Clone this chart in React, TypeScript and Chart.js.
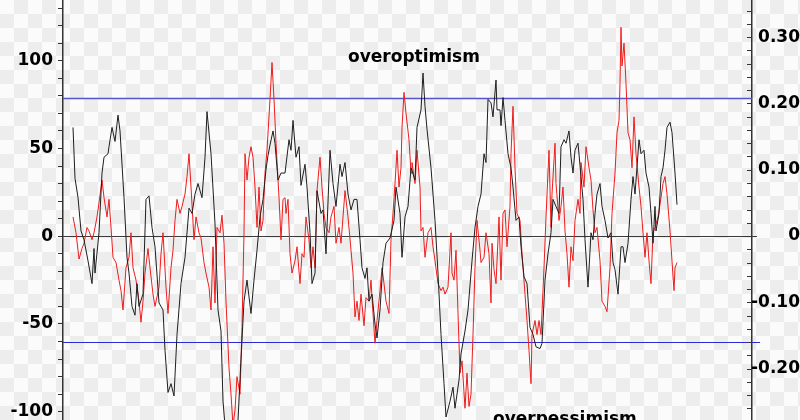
import React, { useEffect, useRef } from "react";
import { Chart, registerables } from "chart.js";

Chart.register(...registerables);

// time index (periods) and sentiment index, black series (left axis)
const BLACK: [number, number][] = [
  [0, 62], [2, 33], [5, 22], [8, 3], [11, -2], [15, -14], [19, -27], [21, -7], [22, -21], [26, 2],
  [29, 36], [31, 45], [35, 47], [36, 51], [39, 62], [42, 54], [45, 69], [47, 60], [51, 22], [54, -12],
  [56, -21], [59, -40], [62, -45], [64, -27], [66, -40], [70, -33], [73, 21], [76, 23], [79, 5], [82, -6],
  [86, -38], [90, -42], [92, -65], [95, -89], [98, -84], [101, -91], [104, -56], [108, -27], [112, -12], [116, 16],
  [119, 13], [122, 24], [125, 30], [129, 22], [132, 45], [134, 71], [138, 47], [142, 7], [145, -42], [148, -54],
  [150, -94], [153, -115], [157, -125], [163, -118], [165, -105], [168, -70], [171, -37], [174, -25], [178, -44], [181, -25],
  [184, -8], [187, 11], [190, 21], [193, 38], [195, 46], [197, 52], [200, 60], [202, 53], [205, 32], [208, 36],
  [212, 36], [216, 55], [218, 49], [220, 66], [223, 45], [226, 51], [228, 29], [232, 41], [234, 28], [237, 2],
  [239, -27], [242, -21], [244, 26], [248, 13], [250, 15], [253, -10], [257, 49], [260, 30], [263, 17], [267, 41],
  [269, 34], [272, 42], [275, 24], [278, 15], [281, 21], [284, 21], [287, -2], [289, -18], [292, -24], [294, -18],
  [296, -37], [299, -33], [302, -50], [304, -58], [307, -42], [310, -15], [313, -4], [317, -1], [321, 9], [323, 28],
  [327, 13], [329, -12], [332, 11], [335, 17], [338, 39], [342, 32], [344, 62], [348, 72], [350, 93], [352, 74],
  [354, 61], [358, 39], [362, 9], [365, -21], [368, -56], [371, -84], [373, -103], [377, -94], [380, -86], [382, -98],
  [386, -82], [388, -67], [392, -54], [395, -42], [399, -14], [402, 5], [405, 17], [408, 24], [411, 47], [413, 42],
  [415, 78], [418, 76], [420, 68], [423, 89], [424, 72], [427, 72], [428, 63], [430, 79], [432, 66], [435, 47],
  [438, 39], [440, 28], [443, 9], [446, 11], [448, -6], [451, -23], [454, -27], [457, -52], [460, -56], [463, -63],
  [467, -64], [469, -61], [472, -25], [475, -10], [478, 2], [480, 21], [483, 17], [486, 13], [488, 51], [491, 55],
  [493, 53], [496, 60], [498, 45], [500, 36], [502, 49], [505, 53], [508, 34], [510, 21], [512, -2], [515, -29],
  [518, 2], [520, -2], [522, 13], [524, 24], [527, 30], [529, 17], [532, 9], [535, -1], [538, 2], [540, -15],
  [542, -19], [545, -33], [548, -6], [550, -6], [552, -15], [555, -4], [558, 21], [560, 34], [562, 24], [566, 55],
  [568, 47], [571, 49], [573, 36], [576, 28], [578, 13], [580, -4], [582, 17], [583, 3], [586, 13], [588, 34],
  [590, 39], [592, 49], [594, 62], [597, 65], [599, 59], [602, 36], [604, 18],
];

// red series
const RED: [number, number][] = [
  [0, 11], [3, 2], [6, -13], [9, -7], [11, -4], [14, 5], [16, 3], [19, -2], [21, 2], [24, 11],
  [26, 19], [29, 32], [31, 22], [34, 11], [36, 21], [38, 5], [40, -12], [43, -15], [46, -25], [48, -31],
  [50, -42], [53, -18], [56, -12], [58, 2], [60, -18], [63, -25], [66, -37], [68, -49], [70, -37], [72, -21],
  [75, -7], [77, -18], [80, -33], [82, -40], [86, -29], [88, -10], [90, 2], [93, -29], [95, -44], [98, -18],
  [100, -8], [102, 9], [104, 21], [107, 13], [109, 17], [112, 24], [114, 34], [116, 47], [118, 28], [121, -2],
  [123, 11], [126, 2], [128, -1], [131, -15], [133, -21], [136, -29], [138, -42], [140, -6], [142, -38], [144, 5],
  [147, 2], [149, 12], [151, -4], [153, -37], [156, -75], [158, -90], [160, -108], [162, -99], [164, -80], [167, -90],
  [169, -52], [171, 2], [172, 47], [174, 32], [176, 45], [178, 51], [180, 45], [182, 28], [184, 5], [186, 28],
  [188, 3], [190, 9], [192, 36], [194, 49], [197, 78], [199, 99], [201, 78], [203, 53], [206, 22], [208, -2],
  [210, 21], [212, 22], [213, 13], [215, 21], [217, -10], [219, -21], [222, -14], [224, -6], [227, -27], [229, -10],
  [231, -12], [233, 11], [236, -2], [238, -18], [240, -6], [242, -18], [244, 26], [247, 45], [249, 28], [251, 13],
  [253, 5], [256, 2], [258, 11], [261, 17], [263, -4], [266, 5], [268, -4], [270, 11], [272, 26], [275, 11],
  [278, -8], [280, -21], [282, -46], [284, -37], [286, -48], [288, -33], [291, -51], [293, -35], [296, -37], [298, -25],
  [300, -44], [302, -61], [304, -48], [307, -31], [309, -18], [311, -27], [313, -37], [316, -44], [318, -2], [320, 13],
  [322, 30], [324, 49], [326, 28], [328, 39], [329, 62], [331, 82], [333, 70], [336, 55], [338, 36], [339, 42],
  [342, 30], [344, 49], [347, 28], [348, 3], [350, 5], [352, -12], [355, 2], [358, 5], [360, -6], [362, -14],
  [365, -27], [368, -31], [370, -29], [372, -33], [375, -29], [378, 2], [379, -21], [381, -25], [383, -8], [385, -44],
  [387, -78], [389, -71], [392, -98], [394, -78], [396, -97], [398, -90], [400, -56], [402, -18], [404, 9], [407, -8],
  [408, -15], [411, -12], [413, 2], [416, -10], [418, -38], [419, -4], [421, -19], [423, -27], [426, 11], [428, -25],
  [430, 13], [432, 15], [434, -6], [437, 17], [438, 47], [440, 74], [442, 39], [444, 13], [447, 9], [449, -10],
  [452, -33], [454, -48], [456, -65], [458, -84], [459, -56], [462, -48], [464, -56], [466, -48], [468, -56], [471, -18],
  [473, 11], [476, 49], [478, 5], [479, 24], [482, 53], [483, 30], [486, 9], [488, 17], [490, 28], [492, 3],
  [494, -10], [496, -29], [498, -6], [500, -14], [502, 9], [505, 21], [507, 13], [508, 42], [511, 28], [513, 51],
  [516, 39], [518, 32], [520, 15], [522, 2], [524, 5], [527, -14], [529, -37], [532, -40], [534, -43], [537, -18],
  [539, 13], [542, 36], [544, 59], [546, 66], [547, 87], [548, 119], [549, 97], [551, 110], [553, 87], [555, 59],
  [557, 55], [559, 39], [561, 68], [563, 47], [566, 28], [568, 17], [570, 2], [572, -12], [574, 2], [576, -14],
  [578, -27], [580, 2], [582, 5], [585, 11], [588, 22], [590, 30], [592, 34], [594, 24], [597, 3], [599, -14],
  [601, -31], [602, -18], [604, -15],
];

const UPPER_BAND = 79;
const LOWER_BAND = -60;
const LEFT_LABEL_STEP = 50;
const RIGHT_LABEL_STEP = 0.1;
const TEXT_OPT = { label: "overoptimism", t: 341, v: 99 };
const TEXT_PES = { label: "overpessimism", t: 420, v: -107 };

const FONT = '"DejaVu Sans", "Liberation Sans", Arial, sans-serif';

const isMult = (v: number, s: number) => {
  const r = v / s;
  return Math.abs(r - Math.round(r)) < 1e-6;
};

const overlay = {
  id: "overlay",
  beforeDatasetsDraw(chart: any) {
    const { ctx, chartArea: a, scales } = chart;
    const y = scales.y;
    const hl = (v: number, color: string, ext: number, w: number) => {
      const py = Math.round(y.getPixelForValue(v)) + 0.5;
      ctx.save();
      ctx.strokeStyle = color;
      ctx.lineWidth = w;
      ctx.beginPath();
      ctx.moveTo(a.left, py);
      ctx.lineTo(a.right + ext, py);
      ctx.stroke();
      ctx.restore();
    };
    hl(0, "#3a3a3a", 5, 1);
    hl(UPPER_BAND, "#5555cc", 0, 1.3);
    hl(LOWER_BAND, "#2a2ad8", 8, 1.2);
  },
  afterDraw(chart: any) {
    const { ctx, scales } = chart;
    const r = scales.y1;
    ctx.save();
    ctx.strokeStyle = "#333";
    ctx.lineWidth = 1;
    r.ticks.forEach((t: any) => {
      if (!isMult(t.value, 0.02)) return;
      const py = Math.round(r.getPixelForValue(t.value)) + 0.5;
      ctx.beginPath();
      ctx.moveTo(r.left - 5, py);
      ctx.lineTo(r.left, py);
      ctx.stroke();
    });
    ctx.fillStyle = "#000";
    ctx.font = `bold 17px ${FONT}`;
    ctx.textBaseline = "alphabetic";
    ctx.textAlign = "center";
    ctx.fillText(TEXT_OPT.label, scales.x.getPixelForValue(TEXT_OPT.t), scales.y.getPixelForValue(TEXT_OPT.v));
    ctx.textAlign = "left";
    ctx.fillText(TEXT_PES.label, scales.x.getPixelForValue(TEXT_PES.t), scales.y.getPixelForValue(TEXT_PES.v));
    ctx.restore();
  },
};

export default function App() {
  const ref = useRef<HTMLCanvasElement | null>(null);
  useEffect(() => {
    if (!ref.current) return;
    const chart = new Chart(ref.current, {
      type: "line",
      data: {
        datasets: [
          {
            label: "black",
            data: BLACK.map(([x, y]) => ({ x, y })),
            borderColor: "#1e1e1e",
            borderWidth: 1,
            pointRadius: 0,
            tension: 0,
            yAxisID: "y",
          },
          {
            label: "red",
            data: RED.map(([x, y]) => ({ x, y })),
            borderColor: "#ee1c1c",
            borderWidth: 1,
            pointRadius: 0,
            tension: 0,
            yAxisID: "y",
          },
        ],
      },
      options: {
        animation: false,
        responsive: false,
        devicePixelRatio: 1,
        layout: { padding: 0 },
        plugins: { legend: { display: false }, tooltip: { enabled: false } },
        scales: {
          x: { type: "linear", display: false, min: -10, max: 679 },
          y: {
            position: "left",
            min: -104.7,
            max: 134.6,
            afterFit: (s: any) => {
              s.width = 63;
              s.paddingTop = 0;
              s.paddingBottom = 0;
            },
            ticks: {
              stepSize: 10,
              includeBounds: false,
              autoSkip: false,
              padding: 5,
              color: "#000",
              font: { family: FONT, size: 17, weight: "bold" },
              callback: (v: any) => (isMult(Number(v), LEFT_LABEL_STEP) ? String(v) : ""),
            },
            grid: { drawOnChartArea: false, drawTicks: true, tickLength: 5, color: "#333" },
            border: { display: true, color: "#333", width: 1.5 },
          },
          y1: {
            position: "right",
            min: -0.2775,
            max: 0.356,
            afterFit: (s: any) => {
              s.width = 48;
              s.paddingTop = 0;
              s.paddingBottom = 0;
            },
            ticks: {
              stepSize: 0.02,
              includeBounds: false,
              autoSkip: false,
              padding: 0,
              crossAlign: "far",
              color: "#000",
              font: { family: FONT, size: 17, weight: "bold" },
              callback: (v: any) => {
                const n = Number(v);
                if (!isMult(n, RIGHT_LABEL_STEP)) return "";
                if (Math.abs(n) < 1e-9) return "0";
                return n.toFixed(2);
              },
            },
            grid: { drawOnChartArea: false, drawTicks: false, color: "#333" },
            border: { display: true, color: "#333", width: 1.5 },
          },
        },
      },
      plugins: [overlay],
    } as any);
    return () => chart.destroy();
  }, []);

  return (
    <div
      style={{
        position: "fixed",
        left: 0,
        top: 0,
        width: 800,
        height: 420,
        backgroundColor: "#fbfbfb",
        backgroundImage:
          "conic-gradient(#ededed 25%, transparent 0 50%, #ededed 0 75%, transparent 0)",
        backgroundSize: "28px 28px",
      }}
    >
      <canvas ref={ref} width={800} height={420} style={{ display: "block" }} />
    </div>
  );
}
